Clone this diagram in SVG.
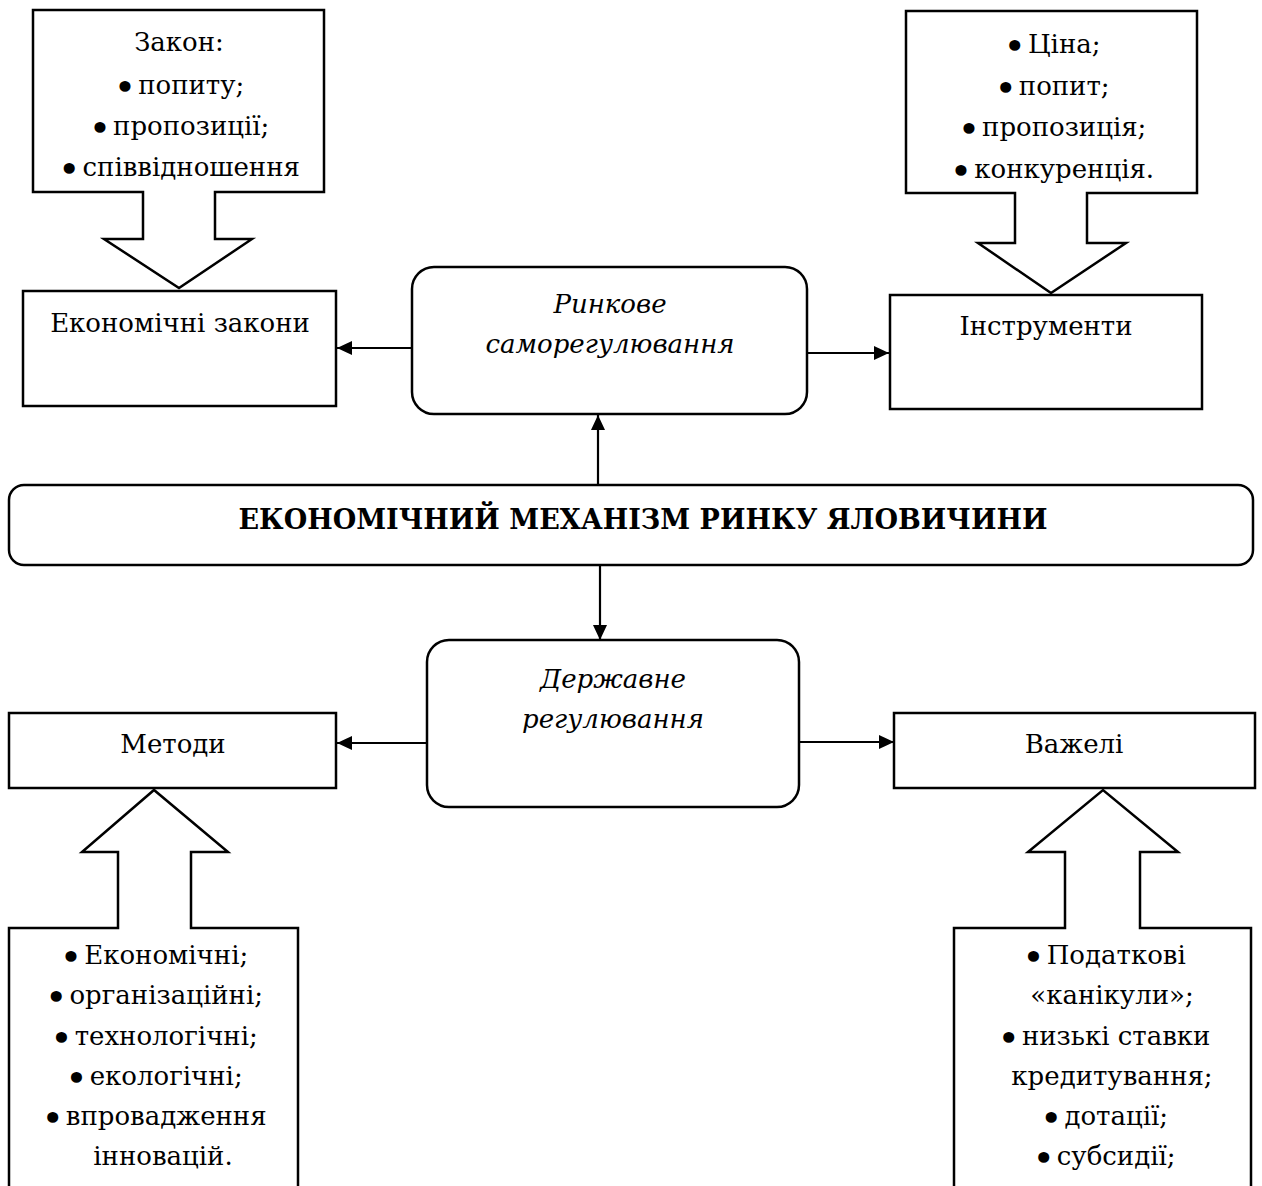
<svg xmlns="http://www.w3.org/2000/svg" width="1262" height="1186" viewBox="0 0 1262 1186">
<style>
.bx{fill:#fff;stroke:#000;stroke-width:2.5}
.t{font-family:"DejaVu Serif","Liberation Serif",serif;font-size:26px;fill:#000;text-anchor:middle}
.i{font-style:italic}
.b{font-weight:bold;font-size:27px}
.bl{font-size:38px}
.ln{stroke:#000;stroke-width:2.2;fill:none;marker-end:url(#ah)}
</style>
<defs>
<marker id="ah" markerUnits="userSpaceOnUse" markerWidth="15" markerHeight="14" refX="15" refY="7" orient="auto">
<path d="M0,0 L15,7 L0,14 Z" fill="#000"/>
</marker>
</defs>
<rect width="1262" height="1186" fill="#fff"/>

<g id="connectors">
<path class="ln" d="M598,485 V415"/>
<path class="ln" d="M600,565 V640"/>
<path class="ln" d="M412,348 H337"/>
<path class="ln" d="M807,353 H889"/>
<path class="ln" d="M427,743 H337"/>
<path class="ln" d="M799,742 H894"/>
</g>

<g id="zakony-callout">
<path class="bx" d="M33,10 H324 V192 H215 V239 H252 L179,288 L104,239 H143 V192 H33 Z"/>
<text class="t" x="179" y="51">Закон:</text>
<text class="t" x="179" y="94"><tspan class="bl" dy="6">•</tspan><tspan dy="-6" dx="2">попиту;</tspan></text>
<text class="t" x="179" y="135"><tspan class="bl" dy="6">•</tspan><tspan dy="-6" dx="2">пропозиції;</tspan></text>
<text class="t" x="179" y="176"><tspan class="bl" dy="6">•</tspan><tspan dy="-6" dx="2">співвідношення</tspan></text>
</g>

<g id="instrumenty-callout">
<path class="bx" d="M906,11 H1197 V193 H1087 V243 H1126 L1051,293 L978,243 H1015 V193 H906 Z"/>
<text class="t" x="1052" y="53"><tspan class="bl" dy="6">•</tspan><tspan dy="-6" dx="2">Ціна;</tspan></text>
<text class="t" x="1052" y="95"><tspan class="bl" dy="6">•</tspan><tspan dy="-6" dx="2">попит;</tspan></text>
<text class="t" x="1052" y="136"><tspan class="bl" dy="6">•</tspan><tspan dy="-6" dx="2">пропозиція;</tspan></text>
<text class="t" x="1052" y="178"><tspan class="bl" dy="6">•</tspan><tspan dy="-6" dx="2">конкуренція.</tspan></text>
</g>

<g id="ekonomichni-zakony">
<rect class="bx" x="23" y="291" width="313" height="115"/>
<text class="t" x="180" y="332">Економічні закони</text>
</g>

<g id="rynkove">
<rect class="bx" x="412" y="267" width="395" height="147" rx="22"/>
<text class="t i" x="610" y="313">Ринкове</text>
<text class="t i" x="610" y="353">саморегулювання</text>
</g>

<g id="instrumenty">
<rect class="bx" x="890" y="295" width="312" height="114"/>
<text class="t" x="1046" y="335">Інструменти</text>
</g>

<g id="mekhanizm">
<rect class="bx" x="9" y="485" width="1244" height="80" rx="15"/>
<text class="t b" x="643" y="529">ЕКОНОМІЧНИЙ МЕХАНІЗМ РИНКУ ЯЛОВИЧИНИ</text>
</g>

<g id="derzhavne">
<rect class="bx" x="427" y="640" width="372" height="167" rx="22"/>
<text class="t i" x="613" y="688">Державне</text>
<text class="t i" x="613" y="728">регулювання</text>
</g>

<g id="metody">
<rect class="bx" x="9" y="713" width="327" height="75"/>
<text class="t" x="173" y="753">Методи</text>
</g>

<g id="vazheli">
<rect class="bx" x="894" y="713" width="361" height="75"/>
<text class="t" x="1074" y="753">Важелі</text>
</g>

<g id="metody-callout">
<path class="bx" d="M9,1195 V928 H118 V852 H82 L154,790 L228,852 H191 V928 H298 V1195 Z"/>
<text class="t" x="154" y="964"><tspan class="bl" dy="6">•</tspan><tspan dy="-6" dx="2">Економічні;</tspan></text>
<text class="t" x="154" y="1004"><tspan class="bl" dy="6">•</tspan><tspan dy="-6" dx="2">організаційні;</tspan></text>
<text class="t" x="154" y="1045"><tspan class="bl" dy="6">•</tspan><tspan dy="-6" dx="2">технологічні;</tspan></text>
<text class="t" x="154" y="1085"><tspan class="bl" dy="6">•</tspan><tspan dy="-6" dx="2">екологічні;</tspan></text>
<text class="t" x="154" y="1125"><tspan class="bl" dy="6">•</tspan><tspan dy="-6" dx="2">впровадження</tspan></text>
<text class="t" x="163" y="1165">інновацій.</text>
</g>

<g id="vazheli-callout">
<path class="bx" d="M954,1195 V928 H1065 V852 H1028 L1103,790 L1178,852 H1140 V928 H1251 V1195 Z"/>
<text class="t" x="1104" y="964"><tspan class="bl" dy="6">•</tspan><tspan dy="-6" dx="2">Податкові</tspan></text>
<text class="t" x="1112" y="1004">«канікули»;</text>
<text class="t" x="1104" y="1045"><tspan class="bl" dy="6">•</tspan><tspan dy="-6" dx="2">низькі ставки</tspan></text>
<text class="t" x="1112" y="1085">кредитування;</text>
<text class="t" x="1104" y="1125"><tspan class="bl" dy="6">•</tspan><tspan dy="-6" dx="2">дотації;</tspan></text>
<text class="t" x="1104" y="1165"><tspan class="bl" dy="6">•</tspan><tspan dy="-6" dx="2">субсидії;</tspan></text>
</g>
</svg>
